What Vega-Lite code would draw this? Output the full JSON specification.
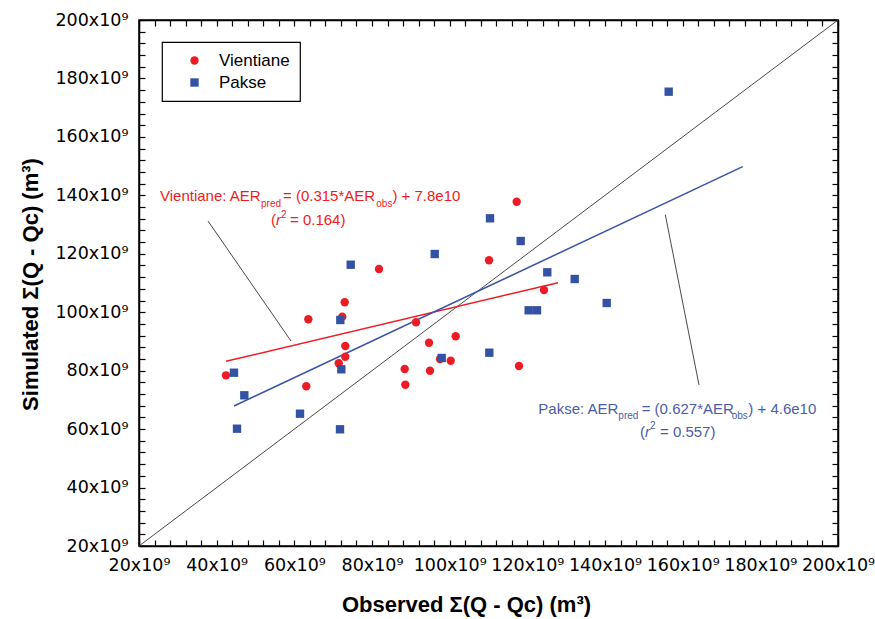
{
  "$schema": "https://vega.github.io/schema/vega-lite/v6.json",
  "width": 699,
  "height": 526,
  "autosize": {"type": "none"},
  "padding": {"left": 139, "top": 20, "right": 37, "bottom": 73},
  "background": "white",
  "config": {
    "font": "Liberation Sans",
    "view": {"stroke": "black", "strokeWidth": 1.5},
    "axis": {
      "grid": false,
      "domainColor": "black",
      "domainWidth": 1.5,
      "tickColor": "black",
      "tickWidth": 1.2,
      "labelColor": "black",
      "labelFont": "DejaVu Sans",
      "labelFontSize": 17.5,
      "labelOverlap": false,
      "labelFlush": false,
      "titleColor": "black",
      "titleFont": "Liberation Sans",
      "titleFontSize": 22,
      "titleFontWeight": "bold"
    },
    "legend": {
      "orient": "none",
      "legendX": 23,
      "legendY": 22,
      "strokeColor": "black",
      "strokeWidth": 1.2,
      "fillColor": "white",
      "padding": 10,
      "rowPadding": 4,
      "symbolOffset": 14,
      "labelOffset": 16,
      "labelFont": "Liberation Sans",
      "labelFontSize": 17,
      "labelColor": "black",
      "symbolSize": 70,
      "symbolStrokeWidth": 0
    }
  },
  "datasets": {
    "points": [
      {"site": "Vientiane", "obs": 42.40, "sim": 78.41},
      {"site": "Vientiane", "obs": 63.60, "sim": 97.58},
      {"site": "Vientiane", "obs": 63.08, "sim": 74.65},
      {"site": "Vientiane", "obs": 72.35, "sim": 98.47},
      {"site": "Vientiane", "obs": 72.97, "sim": 103.40},
      {"site": "Vientiane", "obs": 73.12, "sim": 88.44},
      {"site": "Vientiane", "obs": 73.12, "sim": 84.78},
      {"site": "Vientiane", "obs": 71.43, "sim": 82.52},
      {"site": "Vientiane", "obs": 81.80, "sim": 114.79},
      {"site": "Vientiane", "obs": 91.33, "sim": 96.55},
      {"site": "Vientiane", "obs": 88.42, "sim": 80.57},
      {"site": "Vientiane", "obs": 88.58, "sim": 75.20},
      {"site": "Vientiane", "obs": 94.68, "sim": 89.57},
      {"site": "Vientiane", "obs": 94.94, "sim": 79.99},
      {"site": "Vientiane", "obs": 97.51, "sim": 83.99},
      {"site": "Vientiane", "obs": 100.27, "sim": 83.41},
      {"site": "Vientiane", "obs": 101.55, "sim": 91.76},
      {"site": "Vientiane", "obs": 110.13, "sim": 117.77},
      {"site": "Vientiane", "obs": 117.26, "sim": 137.82},
      {"site": "Vientiane", "obs": 117.85, "sim": 81.60},
      {"site": "Vientiane", "obs": 124.29, "sim": 107.61},
      {"site": "Pakse", "obs": 156.40, "sim": 175.47},
      {"site": "Pakse", "obs": 44.46, "sim": 79.30},
      {"site": "Pakse", "obs": 47.12, "sim": 71.57},
      {"site": "Pakse", "obs": 45.24, "sim": 60.14},
      {"site": "Pakse", "obs": 61.46, "sim": 65.27},
      {"site": "Pakse", "obs": 71.84, "sim": 97.34},
      {"site": "Pakse", "obs": 72.10, "sim": 80.47},
      {"site": "Pakse", "obs": 71.76, "sim": 59.94},
      {"site": "Pakse", "obs": 74.52, "sim": 116.26},
      {"site": "Pakse", "obs": 96.15, "sim": 119.92},
      {"site": "Pakse", "obs": 110.39, "sim": 132.14},
      {"site": "Pakse", "obs": 110.21, "sim": 86.15},
      {"site": "Pakse", "obs": 97.95, "sim": 84.34},
      {"site": "Pakse", "obs": 118.29, "sim": 124.37},
      {"site": "Pakse", "obs": 125.14, "sim": 113.66},
      {"site": "Pakse", "obs": 120.35, "sim": 100.66},
      {"site": "Pakse", "obs": 122.49, "sim": 100.66},
      {"site": "Pakse", "obs": 132.20, "sim": 111.37},
      {"site": "Pakse", "obs": 140.44, "sim": 103.16}
    ],
    "lines": [
      {"line": "1:1", "kind": "ref", "obs": 20, "sim": 20},
      {"line": "1:1", "kind": "ref", "obs": 200, "sim": 200},
      {"line": "Vientiane leader", "kind": "ref", "obs": 37.77, "sim": 131.22},
      {"line": "Vientiane leader", "kind": "ref", "obs": 59.14, "sim": 90.15},
      {"line": "Pakse leader", "kind": "ref", "obs": 155.53, "sim": 133.37},
      {"line": "Pakse leader", "kind": "ref", "obs": 164.21, "sim": 75.10},
      {"line": "Vientiane fit", "kind": "Vientiane", "obs": 42.40, "sim": 83.21},
      {"line": "Vientiane fit", "kind": "Vientiane", "obs": 127.90, "sim": 110.10},
      {"line": "Pakse fit", "kind": "Pakse", "obs": 44.46, "sim": 67.91},
      {"line": "Pakse fit", "kind": "Pakse", "obs": 175.46, "sim": 149.80}
    ],
    "labels": [
      {"site": "Vientiane", "role": "main", "obs": 25.41, "sim": 138.06, "t": "Vientiane: AER"},
      {"site": "Vientiane", "role": "sub", "obs": 51.42, "sim": 136.11, "t": "pred"},
      {"site": "Vientiane", "role": "main", "obs": 57.08, "sim": 138.06, "t": "= (0.315*AER"},
      {"site": "Vientiane", "role": "sub", "obs": 81.10, "sim": 136.11, "t": "obs"},
      {"site": "Vientiane", "role": "main", "obs": 85.25, "sim": 138.06, "t": ") + 7.8e10"},
      {"site": "Vientiane", "role": "main", "obs": 53.99, "sim": 129.85, "t": "("},
      {"site": "Vientiane", "role": "ital", "obs": 55.28, "sim": 129.85, "t": "r"},
      {"site": "Vientiane", "role": "sup", "obs": 56.57, "sim": 132.24, "t": "2"},
      {"site": "Vientiane", "role": "main", "obs": 58.88, "sim": 129.85, "t": "= 0.164)"},
      {"site": "Pakse", "role": "main", "obs": 122.83, "sim": 65.07, "t": "Pakse: AER"},
      {"site": "Pakse", "role": "sub", "obs": 143.43, "sim": 63.46, "t": "pred"},
      {"site": "Pakse", "role": "main", "obs": 149.45, "sim": 65.07, "t": "= (0.627*AER"},
      {"site": "Pakse", "role": "sub", "obs": 172.62, "sim": 63.46, "t": "obs"},
      {"site": "Pakse", "role": "main", "obs": 176.90, "sim": 65.07, "t": ") + 4.6e10"},
      {"site": "Pakse", "role": "main", "obs": 149.01, "sim": 57.40, "t": "("},
      {"site": "Pakse", "role": "ital", "obs": 150.30, "sim": 57.40, "t": "r"},
      {"site": "Pakse", "role": "sup", "obs": 151.59, "sim": 60.04, "t": "2"},
      {"site": "Pakse", "role": "main", "obs": 154.16, "sim": 57.40, "t": "= 0.557)"}
    ]
  },
  "layer": [
    {
      "encoding": {
        "x": {
          "field": "obs",
          "type": "quantitative",
          "scale": {"domain": [20, 200], "nice": false, "zero": false},
          "axis": {
            "orient": "bottom",
            "values": [20,24,28,32,36,40,44,48,52,56,60,64,68,72,76,80,84,88,92,96,100,104,108,112,116,120,124,128,132,136,140,144,148,152,156,160,164,168,172,176,180,184,188,192,196,200],
            "labelExpr": "datum.value % 20 === 0 ? datum.value + 'x10⁹' : ''",
            "tickSize": -6,
            "labelPadding": 16,
            "title": "Observed Σ(Q - Qc) (m³)",
            "titleX": 327,
            "titleY": 65,
            "titleBaseline": "alphabetic",
            "titleAlign": "center"
          }
        },
        "y": {
          "field": "sim",
          "type": "quantitative",
          "scale": {"domain": [20, 200], "nice": false, "zero": false},
          "axis": {
            "orient": "left",
            "values": [20,24,28,32,36,40,44,48,52,56,60,64,68,72,76,80,84,88,92,96,100,104,108,112,116,120,124,128,132,136,140,144,148,152,156,160,164,168,172,176,180,184,188,192,196,200],
            "labelExpr": "datum.value % 20 === 0 ? datum.value + 'x10⁹' : ''",
            "tickSize": -6,
            "labelPadding": 17,
            "title": "Simulated Σ(Q - Qc) (m³)",
            "titleAngle": -90,
            "titleX": -102,
            "titleY": 264,
            "titleBaseline": "alphabetic",
            "titleAlign": "center"
          }
        }
      },
      "layer": [
        {
          "data": {"name": "lines"},
          "transform": [{"filter": "datum.kind === 'ref'"}],
          "mark": {"type": "line", "color": "#333333", "strokeWidth": 0.9},
          "encoding": {"detail": {"field": "line", "type": "nominal"}}
        },
        {
          "data": {"name": "lines"},
          "transform": [{"filter": "datum.kind === 'Vientiane'"}],
          "mark": {"type": "line", "color": "#ED1C24", "strokeWidth": 1.5},
          "encoding": {}
        },
        {
          "data": {"name": "lines"},
          "transform": [{"filter": "datum.kind === 'Pakse'"}],
          "mark": {"type": "line", "color": "#3A53A6", "strokeWidth": 1.5},
          "encoding": {}
        },
        {
          "data": {"name": "points"},
          "mark": {"type": "point", "filled": true, "opacity": 1, "size": 70},
          "encoding": {
            "color": {
              "field": "site",
              "type": "nominal",
              "scale": {"domain": ["Vientiane", "Pakse"], "range": ["#ED1C24", "#3352A4"]},
              "legend": {"title": null}
            },
            "shape": {
              "field": "site",
              "type": "nominal",
              "scale": {"domain": ["Vientiane", "Pakse"], "range": ["circle", "square"]},
              "legend": {"title": null}
            }
          }
        },
        {
          "data": {"name": "labels"},
          "transform": [{"filter": "datum.role === 'main'"}],
          "mark": {"type": "text", "align": "left", "baseline": "alphabetic", "fontSize": 15, "font": "Liberation Sans"},
          "encoding": {
            "text": {"field": "t"},
            "color": {"condition": {"test": "datum.site === 'Vientiane'", "value": "#ED1C24"}, "value": "#4A5CA9"}
          }
        },
        {
          "data": {"name": "labels"},
          "transform": [{"filter": "datum.role === 'ital'"}],
          "mark": {"type": "text", "align": "left", "baseline": "alphabetic", "fontSize": 15, "fontStyle": "italic", "font": "Liberation Sans"},
          "encoding": {
            "text": {"field": "t"},
            "color": {"condition": {"test": "datum.site === 'Vientiane'", "value": "#ED1C24"}, "value": "#4A5CA9"}
          }
        },
        {
          "data": {"name": "labels"},
          "transform": [{"filter": "datum.role === 'sub' || datum.role === 'sup'"}],
          "mark": {"type": "text", "align": "left", "baseline": "alphabetic", "fontSize": 10, "font": "Liberation Sans"},
          "encoding": {
            "text": {"field": "t"},
            "color": {"condition": {"test": "datum.site === 'Vientiane'", "value": "#ED1C24"}, "value": "#4A5CA9"}
          }
        }
      ]
    },
    {
      "data": {"name": "points"},
      "mark": {"type": "point", "opacity": 0},
      "encoding": {
        "x": {
          "field": "obs",
          "type": "quantitative",
          "scale": {"domain": [20, 200], "nice": false, "zero": false},
          "axis": {
            "orient": "top",
            "values": [20,24,28,32,36,40,44,48,52,56,60,64,68,72,76,80,84,88,92,96,100,104,108,112,116,120,124,128,132,136,140,144,148,152,156,160,164,168,172,176,180,184,188,192,196,200],
            "labels": false,
            "tickSize": -6,
            "title": null
          }
        },
        "y": {
          "field": "sim",
          "type": "quantitative",
          "scale": {"domain": [20, 200], "nice": false, "zero": false},
          "axis": {
            "orient": "right",
            "values": [20,24,28,32,36,40,44,48,52,56,60,64,68,72,76,80,84,88,92,96,100,104,108,112,116,120,124,128,132,136,140,144,148,152,156,160,164,168,172,176,180,184,188,192,196,200],
            "labels": false,
            "tickSize": -6,
            "title": null
          }
        }
      }
    }
  ],
  "resolve": {"scale": {"x": "independent", "y": "independent"}}
}
